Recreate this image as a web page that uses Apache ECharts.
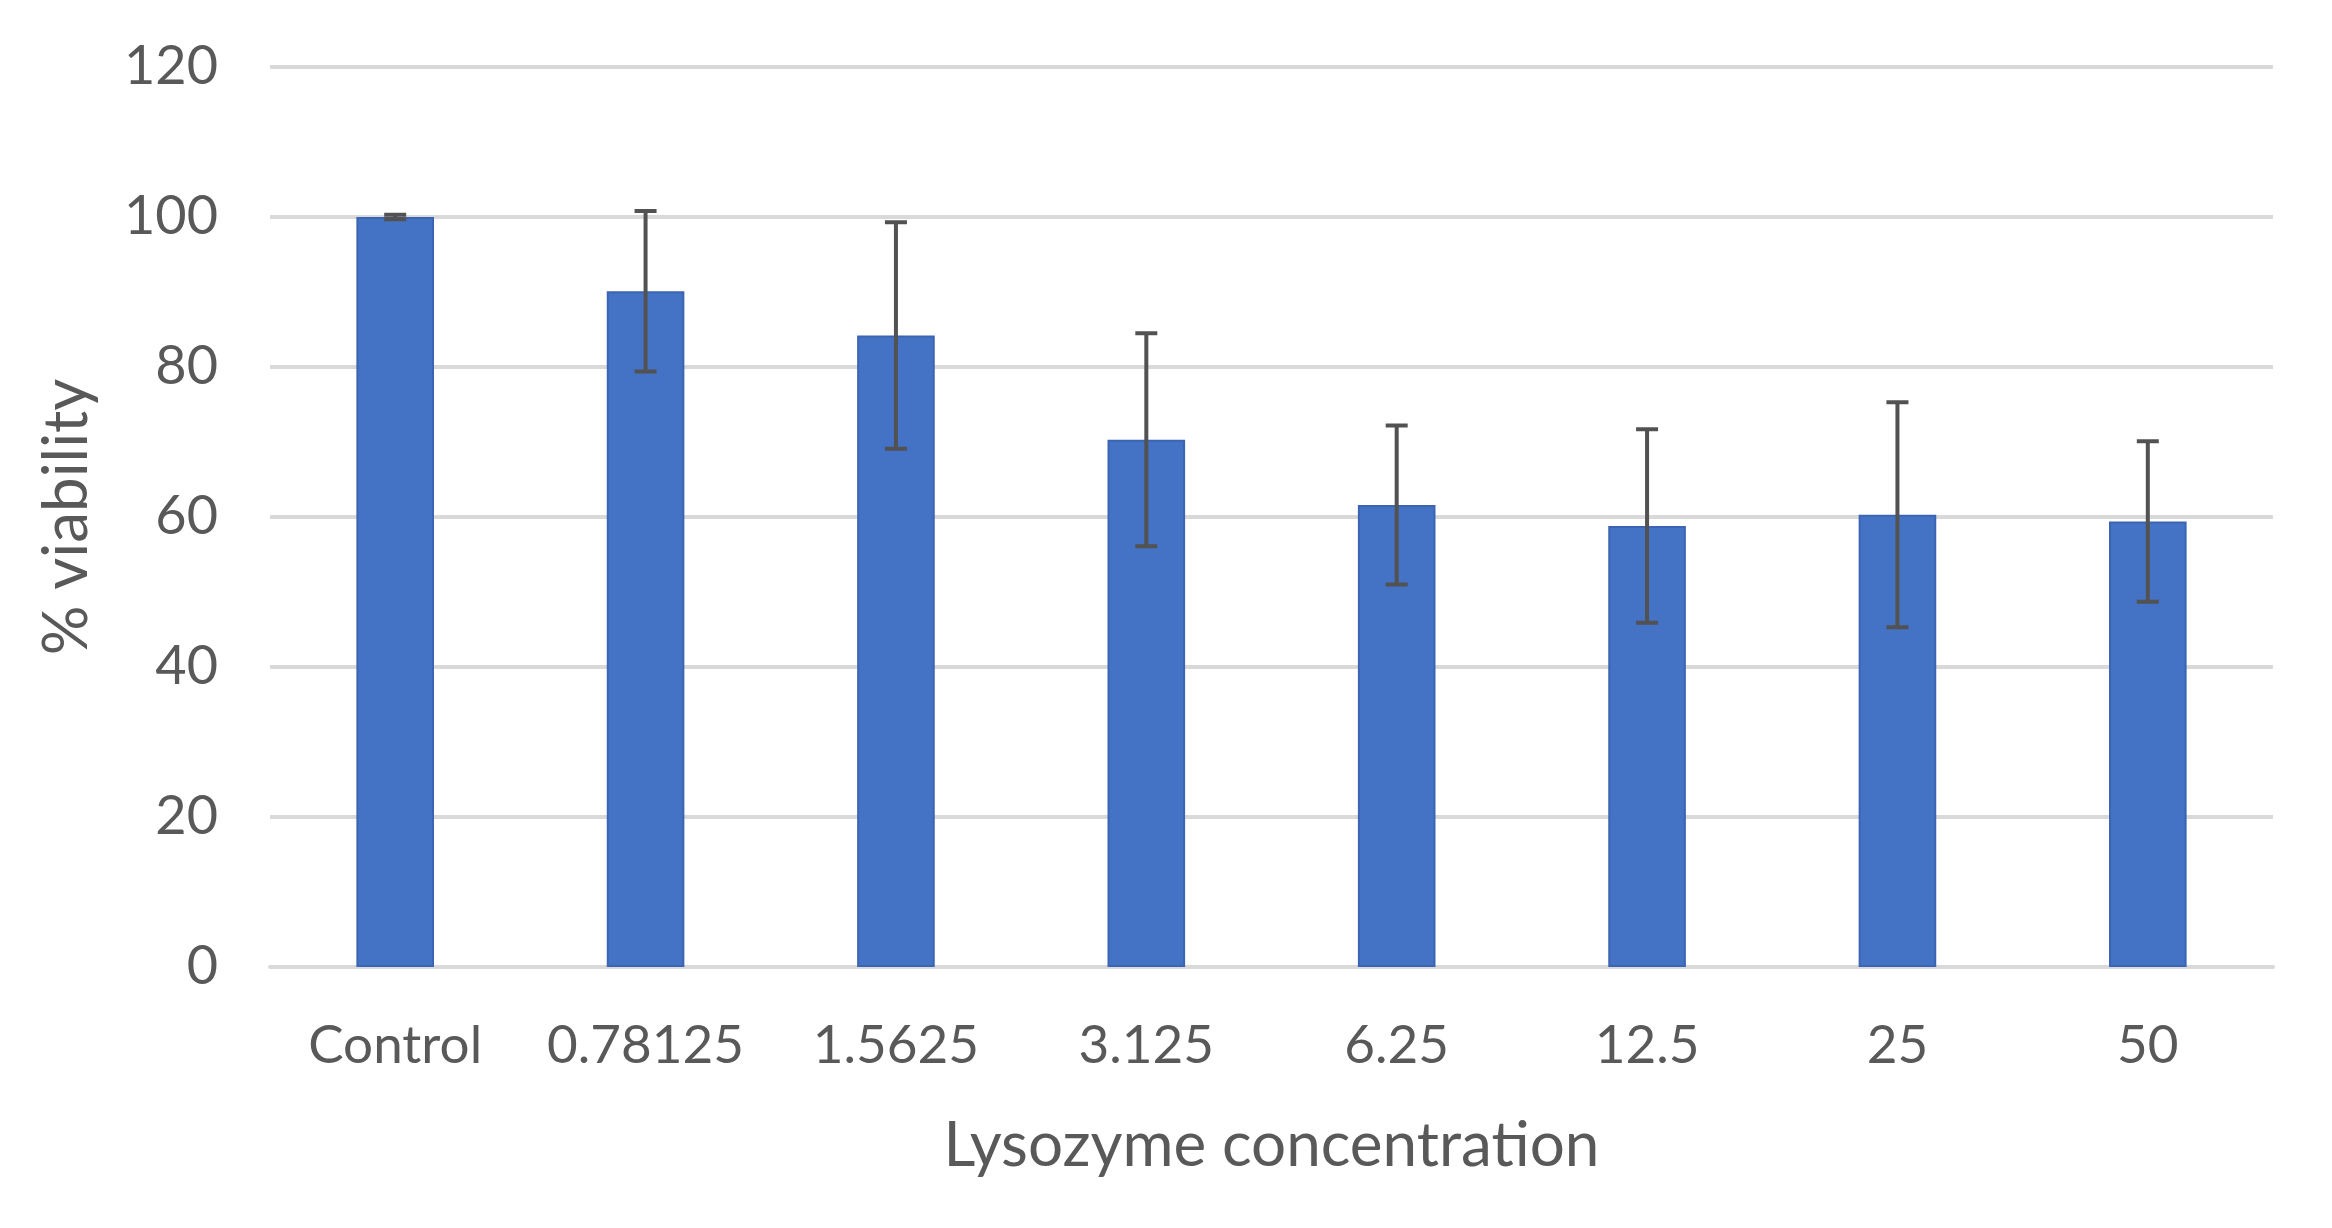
<!DOCTYPE html>
<html>
<head>
<meta charset="utf-8">
<script src="https://cdn.jsdelivr.net/npm/echarts@6/dist/echarts.min.js"></script>
<style>
html,body{margin:0;padding:0;background:#fff;}
#chart{width:2332px;height:1228px;}
</style>
</head>
<body>
<div id="chart"></div>
<script>
const categories = ['Control', '0.78125', '1.5625', '3.125', '6.25', '12.5', '25', '50'];
const viability = [100, 90.1, 84.2, 70.3, 61.6, 58.8, 60.3, 59.4];
const errors = [0.3, 10.7, 15.1, 14.2, 10.6, 12.9, 15.0, 10.7];
const yTicks = [0, 20, 40, 60, 80, 100, 120];

const errData = categories.map((c, i) => [i, viability[i] - errors[i], viability[i] + errors[i]]);

const textColor = '#595959';
const fontFamily = 'Lato, "Open Sans", sans-serif';

const chart = echarts.init(document.getElementById('chart'));
chart.setOption({
  animation: false,
  backgroundColor: '#ffffff',
  grid: { left: 270, right: 59, top: 67, bottom: 261, containLabel: false },
  xAxis: {
    type: 'category',
    data: categories,
    name: 'Lysozyme concentration',
    nameLocation: 'middle',
    nameGap: 148,
    nameTextStyle: { color: textColor, fontSize: 62, fontFamily: fontFamily },
    axisLine: { show: true, lineStyle: { color: '#d9d9d9', width: 4 } },
    axisTick: { show: false },
    axisLabel: { interval: 0, color: textColor, fontSize: 53, fontFamily: fontFamily, margin: 52 }
  },
  yAxis: {
    type: 'value',
    min: yTicks[0],
    max: yTicks[yTicks.length - 1],
    interval: 20,
    name: '% viability',
    nameLocation: 'middle',
    nameGap: 172,
    nameRotate: 90,
    nameTextStyle: { color: textColor, fontSize: 62, fontFamily: fontFamily },
    axisLine: { show: false },
    axisTick: { show: false },
    splitLine: { lineStyle: { color: '#d9d9d9', width: 4 } },
    axisLabel: { color: textColor, fontSize: 54, fontFamily: fontFamily, margin: 52 }
  },
  series: [
    {
      type: 'bar',
      data: viability,
      barWidth: '31%',
      itemStyle: { color: '#4472C4', borderColor: '#3b65b3', borderWidth: 2 },
      z: 2
    },
    {
      type: 'custom',
      data: errData,
      z: 5,
      renderItem: function (params, api) {
        const x = api.value(0);
        const lo = api.coord([x, api.value(1)]);
        const hi = api.coord([x, api.value(2)]);
        const hw = 11;
        const style = { stroke: '#525252', lineWidth: 4 };
        return {
          type: 'group',
          children: [
            { type: 'line', shape: { x1: lo[0], y1: lo[1], x2: hi[0], y2: hi[1] }, style: style },
            { type: 'line', shape: { x1: hi[0] - hw, y1: hi[1], x2: hi[0] + hw, y2: hi[1] }, style: style },
            { type: 'line', shape: { x1: lo[0] - hw, y1: lo[1], x2: lo[0] + hw, y2: lo[1] }, style: style }
          ]
        };
      }
    }
  ]
});
</script>
</body>
</html>
